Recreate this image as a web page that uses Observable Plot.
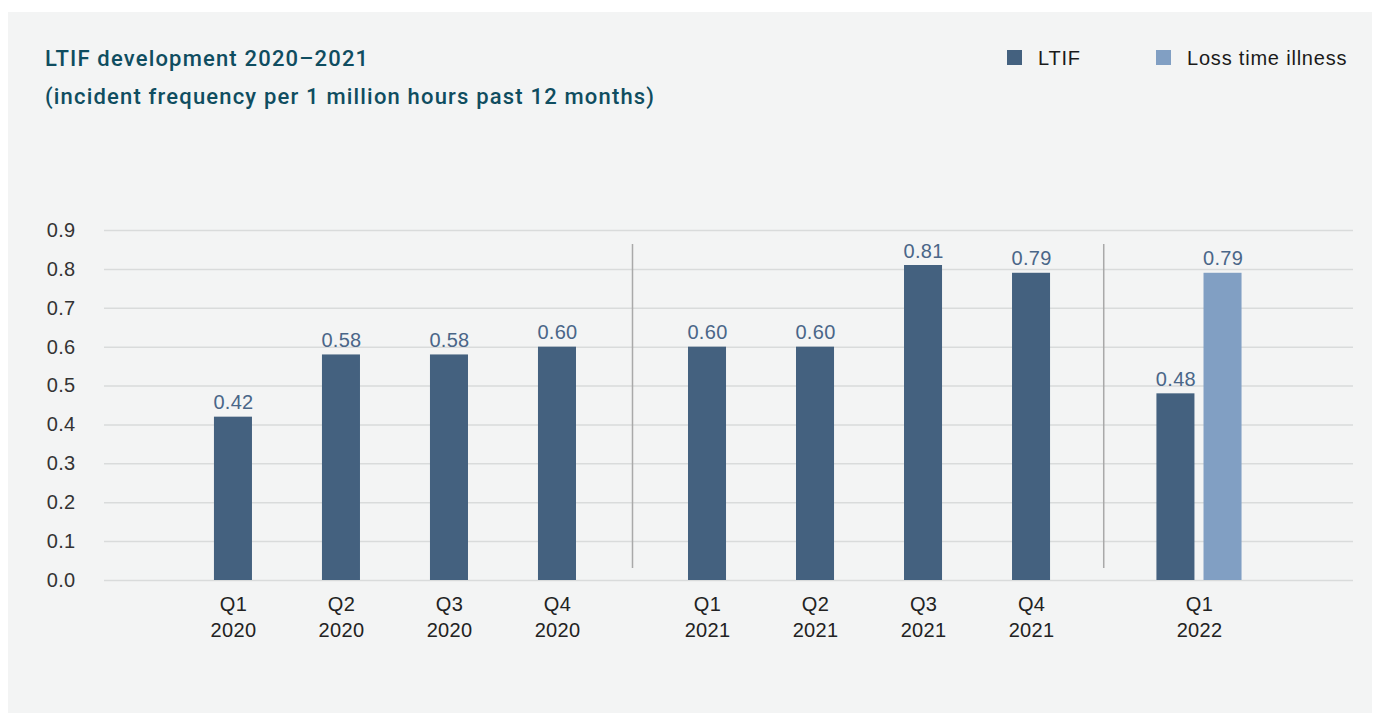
<!DOCTYPE html>
<html><head><meta charset="utf-8">
<script src="https://cdn.jsdelivr.net/npm/d3@7"></script>
<script src="https://cdn.jsdelivr.net/npm/@observablehq/plot@0.6"></script>
<style>
body{margin:0;background:#fff;width:1380px;height:713px;overflow:hidden;font-family:"Liberation Sans",Arial,sans-serif;position:relative}
#panel{position:absolute;left:8px;top:12px;width:1364px;height:701px;background:#f3f4f4}
.title{position:absolute;left:45px;color:#0f4d60;font-family:Roboto,sans-serif;font-weight:500;font-size:22px;letter-spacing:1.18px;line-height:26px;white-space:nowrap}
.leg{position:absolute;top:46px;font-size:20px;letter-spacing:0.8px;line-height:24px;color:#1a1a1a;white-space:nowrap}
.sw{position:absolute;top:50px;width:15px;height:15px}
#chart{position:absolute;left:0;top:200px}
</style></head>
<body>
<div id="panel"></div>
<div class="title" style="top:46px">LTIF development 2020–2021</div>
<div class="title" style="top:84px">(incident frequency per 1 million hours past 12 months)</div>
<div class="sw" style="left:1007px;background:#44617f"></div>
<div class="leg" style="left:1038px">LTIF</div>
<div class="sw" style="left:1156px;background:#819fc3"></div>
<div class="leg" style="left:1187px">Loss time illness</div>
<div id="chart"></div>
<script>
const quarters = ["Q1","Q2","Q3","Q4","Q1","Q2","Q3","Q4","Q1"];
const years = ["2020","2020","2020","2020","2021","2021","2021","2021","2022"];
const ltif = [0.42,0.58,0.58,0.60,0.60,0.60,0.81,0.79,0.48];
const lossTimeIllness = [null,null,null,null,null,null,null,null,0.79];
const seriesNames = ["LTIF","Loss time illness"];
const seriesColors = ["#44617f","#819fc3"];
const yTicks = [0,0.1,0.2,0.3,0.4,0.5,0.6,0.7,0.8,0.9];

// layout constants (in slot units)
const groupOffset = [0, 0.389, 0.944];
const halfBar = 0.176, pairStep = 0.436;

const yearList = [...new Set(years)];
const rows = quarters.map((q,i)=>({q, year: years[i], pos: i + groupOffset[yearList.indexOf(years[i])]}));
const bars = [];
rows.forEach((r,i)=>{
  const vals = [ltif[i], lossTimeIllness[i]];
  const n = vals.filter(v=>v!=null).length;
  let k = 0;
  vals.forEach((v,s)=>{
    if (v==null) return;
    bars.push({series: seriesNames[s], value: v, year: r.year, center: r.pos + (k-(n-1)/2)*pairStep});
    k++;
  });
});
const seps = [];
for (let g=1; g<yearList.length; g++) {
  const prev = d3.max(bars.filter(b=>b.year===yearList[g-1]), b=>b.center);
  const next = d3.min(bars.filter(b=>b.year===yearList[g]), b=>b.center);
  seps.push((prev+next)/2);
}

const chart = Plot.plot({
  width: 1380, height: 450,
  marginTop: 30, marginBottom: 70, marginLeft: 104, marginRight: 27,
  style: {background: "transparent", fontFamily: "Liberation Sans, Arial, sans-serif", fontSize: "20px", letterSpacing: "0.3px"},
  x: {type: "linear", domain: [-1.194, 10.37], axis: null},
  y: {domain: [0, 0.9], axis: null},
  color: {domain: seriesNames, range: seriesColors},
  marks: [
    Plot.ruleY(yTicks, {stroke: "#d9dbdb", strokeWidth: 1.5}),
    Plot.axisY(yTicks, {tickSize: 0, tickPadding: 29, tickFormat: d3.format(".1f"), fill: "#333", fontSize: 20, label: null}),
    Plot.ruleX(seps, {x: d=>d, y1: 0.031, y2: 0.864, stroke: "#a9a9a9", strokeWidth: 1.5}),
    Plot.rectY(bars, {x1: d=>d.center-halfBar, x2: d=>d.center+halfBar, y: "value", fill: "series"}),
    Plot.text(bars, {x: "center", y: "value", text: d=>d.value.toFixed(2), lineAnchor: "bottom", dy: -8, fill: "#4a6688", fontSize: 20}),
    Plot.text(rows, {x: "pos", y: 0, text: d=>`${d.q}\n${d.year}`, lineAnchor: "top", dy: 12, lineHeight: 1.3, fill: "#222", fontSize: 20})
  ]
});
document.getElementById("chart").appendChild(chart);
</script>
</body></html>
